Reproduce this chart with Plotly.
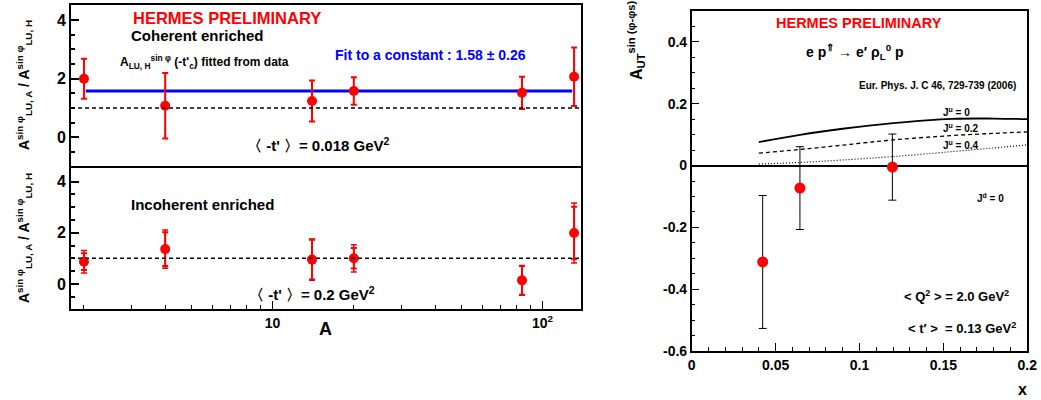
import plotly.graph_objects as go

# ---------------- data ----------------
# Left panels: nuclear mass number A
A_COH = [2, 4, 14, 20, 84, 131]
R_COH = [2.00, 1.08, 1.24, 1.58, 1.52, 2.07]
R_COH_ERR = [0.68, 1.12, 0.70, 0.47, 0.55, 1.00]

A_INC = [2, 4, 14, 20, 84, 131]
R_INC = [0.87, 1.36, 0.95, 1.00, 0.14, 1.99]
R_INC_STAT = [0.33, 0.66, 0.78, 0.40, 0.56, 1.03]
R_INC_TOT = [0.44, 0.75, 0.81, 0.53, 0.58, 1.17]

FIT_VALUE = 1.58
FIT_A_RANGE = [2.03, 129]
REF_RATIO = 1.0

# Right panel: A_UT vs x
X_PTS = [0.0423, 0.0645, 0.1196]
AUT = [-0.312, -0.073, -0.005]
AUT_ERR = [0.215, 0.134, 0.107]

X_CURVE = [0.04, 0.0645, 0.09, 0.12, 0.155, 0.18, 0.2]
JU0 = [0.076, 0.0995, 0.119, 0.137, 0.151, 0.152, 0.150]
JU02 = [0.040, 0.052, 0.066, 0.083, 0.097, 0.104, 0.109]
JU04 = [0.005, 0.010, 0.018, 0.029, 0.045, 0.057, 0.067]

FONT = "Liberation Sans"
FW, FH = 1041, 400


def px(x):
    return x / FW


def py(y):
    return 1 - y / FH


fig = go.Figure()

# ---- top-left: coherent ----
fig.add_trace(go.Scatter(
    x=FIT_A_RANGE, y=[FIT_VALUE, FIT_VALUE], mode="lines",
    line=dict(color="#0000ff", width=3), xaxis="x", yaxis="y",
    hoverinfo="skip", showlegend=False))
fig.add_trace(go.Scatter(
    x=A_COH, y=R_COH, mode="markers", xaxis="x", yaxis="y",
    marker=dict(color="#ff0000", size=10),
    error_y=dict(type="data", array=R_COH_ERR, color="#ff0000",
                 thickness=2, width=3),
    showlegend=False))

# ---- bottom-left: incoherent ----
fig.add_trace(go.Scatter(
    x=A_INC, y=R_INC, mode="markers", xaxis="x2", yaxis="y2",
    marker=dict(color="rgba(0,0,0,0)", size=1),
    error_y=dict(type="data", array=R_INC_TOT, color="#ff0000",
                 thickness=1.5, width=3),
    showlegend=False, hoverinfo="skip"))
fig.add_trace(go.Scatter(
    x=A_INC, y=R_INC, mode="markers", xaxis="x2", yaxis="y2",
    marker=dict(color="#ff0000", size=10),
    error_y=dict(type="data", array=R_INC_STAT, color="#ff0000",
                 thickness=2, width=3),
    showlegend=False))

# ---- right panel ----
fig.add_trace(go.Scatter(x=X_CURVE, y=JU0, mode="lines", xaxis="x3", yaxis="y3",
                         line=dict(color="black", width=1.8, shape="spline"),
                         showlegend=False))
fig.add_trace(go.Scatter(x=X_CURVE, y=JU02, mode="lines", xaxis="x3", yaxis="y3",
                         line=dict(color="black", width=1.3, dash="4px,3px", shape="spline"),
                         showlegend=False))
fig.add_trace(go.Scatter(x=X_CURVE, y=JU04, mode="lines", xaxis="x3", yaxis="y3",
                         line=dict(color="black", width=1.2, dash="1px,2px", shape="spline"),
                         showlegend=False))
fig.add_trace(go.Scatter(
    x=X_PTS, y=AUT, mode="markers", xaxis="x3", yaxis="y3",
    marker=dict(color="#ff0000", size=11),
    error_y=dict(type="data", array=AUT_ERR, color="black", thickness=1, width=4),
    showlegend=False))

tickfont_l = dict(family=FONT, size=16, color="black", weight=700)
tickfont_r = dict(family=FONT, size=14, color="black", weight=700)

xl_dom = [px(71), px(581)]
log_range = [0.253, 2.143]
minor_log = [2, 3, 4, 5, 6, 7, 8, 9, 20, 30, 40, 50, 60, 70, 80, 90]

common_axis = dict(showline=True, linecolor="black", mirror=True,
                   showgrid=False, ticks="inside", automargin=False,
                   tickcolor="black")

fig.update_layout(
    width=FW, height=FH,
    margin=dict(l=0, r=0, t=0, b=0),
    paper_bgcolor="white", plot_bgcolor="white",
    font=dict(family=FONT, color="black"),
    xaxis=dict(domain=xl_dom, type="log", range=log_range, anchor="y",
               showticklabels=False, linewidth=2, zeroline=False,
               **{k: v for k, v in common_axis.items() if k != "ticks"},
               ticks=""),
    yaxis=dict(domain=[py(166), py(5)], range=[-0.98, 4.52], anchor="x",
               tickvals=[0, 2, 4], ticklen=8, tickwidth=1.5, linewidth=2,
               tickfont=tickfont_l, zeroline=False,
               minor=dict(dtick=0.5, ticklen=4, tickcolor="black", ticks="inside"),
               **common_axis),
    xaxis2=dict(domain=xl_dom, type="log", range=log_range, anchor="y2",
                tickvals=[10, 100], ticktext=["10", "10<sup>2</sup>"],
                ticklen=8, tickwidth=1, linewidth=2, zeroline=False,
                tickfont=dict(family=FONT, size=14, color="black", weight=700),
                minor=dict(tickvals=minor_log, ticklen=4, tickcolor="black", ticks="inside"),
                **common_axis),
    yaxis2=dict(domain=[py(309), py(168)], range=[-0.98, 4.53], anchor="x2",
                tickvals=[0, 2, 4], ticklen=8, tickwidth=1.5, linewidth=2,
                tickfont=tickfont_l, zeroline=False,
                minor=dict(dtick=0.5, ticklen=4, tickcolor="black", ticks="inside"),
                **common_axis),
    xaxis3=dict(domain=[px(691.7), px(1027.3)], range=[0, 0.2], anchor="y3",
                tickvals=[0, 0.05, 0.1, 0.15, 0.2], ticktext=["0", "0.05", "0.1", "0.15", "0.2"],
                ticklen=8, linewidth=1.5, tickfont=tickfont_r, zeroline=False,
                minor=dict(dtick=0.01, ticklen=4, tickcolor="black", ticks="inside"),
                **common_axis),
    yaxis3=dict(domain=[py(351), py(11)], range=[-0.6, 0.5], anchor="x3",
                tickvals=[-0.6, -0.4, -0.2, 0, 0.2, 0.4],
                ticktext=["-0.6", "-0.4", "-0.2", "0", "0.2", "0.4"],
                ticklen=8, linewidth=1.5, tickfont=tickfont_r,
                minor=dict(dtick=0.05, ticklen=4, tickcolor="black", ticks="inside"),
                zeroline=True, zerolinecolor="black", zerolinewidth=1.5,
                **common_axis),
)

# dashed reference lines at ratio 1
for ya, xa in (("y", "x"), ("y2", "x2")):
    fig.add_shape(type="line", xref=f"{xa} domain", yref=ya, x0=0, x1=1,
                  y0=REF_RATIO, y1=REF_RATIO,
                  line=dict(color="black", width=1.5, dash="4px,3px"))


def ann(text, x, y, size, color="black", xanchor="left", yanchor="middle", angle=0, bold=True):
    fig.add_annotation(text=text, x=px(x), y=py(y), xref="paper", yref="paper",
                       xanchor=xanchor, yanchor=yanchor, showarrow=False,
                       textangle=angle, borderpad=0,
                       font=dict(family=FONT, size=size, color=color,
                                 weight=700 if bold else 400))


# left texts
ann("HERMES PRELIMINARY", 227, 18, 16.5, color="#ff0000", xanchor="center")
ann("Coherent enriched", 130, 35, 15)
ann("A<sub>LU, H</sub><sup>sin φ</sup> (-t'<sub>c</sub>) fitted from data", 119, 62, 12)
ann("Fit to a constant : 1.58 ± 0.26", 334, 55, 14, color="#0000ff")
ann("〈 -t' 〉= 0.018 GeV<sup>2</sup>", 246, 144, 15)
ann("Incoherent enriched", 130, 204, 15)
ann("〈 -t' 〉= 0.2 GeV<sup>2</sup>", 248, 293, 15)
ann("A<sup>sin φ</sup><sub>LU, A</sub> / A<sup>sin φ</sup><sub>LU, H</sub>", 24, 85, 14, xanchor="center", angle=-90)
ann("A<sup>sin φ</sup><sub>LU, A</sub> / A<sup>sin φ</sup><sub>LU, H</sub>", 24, 238, 14, xanchor="center", angle=-90)
ann("A", 325, 329, 18, xanchor="center")

# right texts
ann("HERMES PRELIMINARY", 859, 23, 14.5, color="#ff0000", xanchor="center")
ann("e p<sup>⇑</sup> → e′ ρ<sub>L</sub><sup>0</sup> p", 855, 52, 14, xanchor="center")
ann("Eur. Phys. J. C 46, 729-739 (2006)", 1017, 86, 10, xanchor="right")
ann("J<sup>u</sup> = 0", 942, 112, 10)
ann("J<sup>u</sup> = 0.2", 942, 128, 10)
ann("J<sup>u</sup> = 0.4", 942, 145, 10)
ann("J<sup>d</sup> = 0", 976, 198, 10)
ann("< Q<sup>2</sup> > = 2.0 GeV<sup>2</sup>", 1010, 296, 13, xanchor="right")
ann("< t′ >  = 0.13 GeV<sup>2</sup>", 1017, 328, 13, xanchor="right")
ann("A<sub>UT</sub><sup>sin (φ-φs)</sup>", 636, 41, 16, xanchor="center", angle=-90)
ann("x", 1022, 389, 16, xanchor="center")

fig.write_html("out.html", config={"displayModeBar": False},
               post_script="document.body.style.margin='0';document.body.style.overflow='hidden';")
